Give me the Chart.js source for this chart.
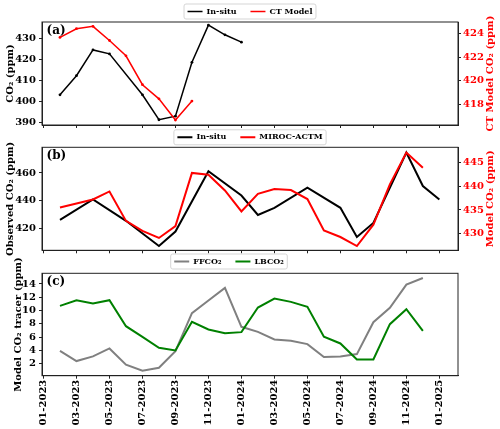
<!DOCTYPE html>
<html>
<head>
<meta charset="utf-8">
<script src="https://cdn.jsdelivr.net/npm/chart.js@4.4.1/dist/chart.umd.min.js"></script>
<style>
  body { margin: 0; background: #fff; }
  #wrap { position: relative; width: 500px; height: 429px; }
  #wrap canvas { position: absolute; left: 0; top: 0; }
</style>
</head>
<body>
<div id="wrap">
  <canvas id="chartA" width="500" height="429"></canvas>
  <canvas id="chartB" width="500" height="429"></canvas>
  <canvas id="chartC" width="500" height="429"></canvas>
</div>
<script>
// month index, 0 = Jan 2023 -> points Feb 2023 .. Jan 2025
var months = [1, 2, 3, 4, 5, 6, 7, 8, 9, 10, 11, 12, 13, 14, 15, 16, 17, 18, 19, 20, 21, 22, 23, 24];
var xTicks = [0, 2, 4, 6, 8, 10, 12, 14, 16, 18, 20, 22, 24];
var xTickLabels = ['01-2023', '03-2023', '05-2023', '07-2023', '09-2023', '11-2023', '01-2024',
                   '03-2024', '05-2024', '07-2024', '09-2024', '11-2024', '01-2025'];

// (a)
var aInsitu = [403.3, 412.4, 424.7, 422.8, null, 403.3, 391.4, 393.1, 418.8, 436.5, 431.9, 428.4,
               null, null, null, null, null, null, null, null, null, null, null, null];
var aCTModel = [423.66, 424.4, 424.6, 423.4, 422.1, 419.65, 418.45, 416.65, 418.26, null, null, null,
                null, null, null, null, null, null, null, null, null, null, null, null];
var aLeftTicks = [390, 400, 410, 420, 430];
var aRightTicks = [418, 420, 422, 424];

// (b)
var bInsitu = [425.9, null, 440.8, null, 425.3, null, 407.0, 417.5, null, 461.2, null, 443.6,
               429.5, 434.7, null, 449.3, null, 434.7, 413.6, 423.7, null, 474.7, 450.5, 440.7];
var bMiroc = [435.5, null, 437.2, 438.9, 432.7, 430.6, 429.1, 431.6, 442.8, 442.4, 439.1, 434.7,
              438.4, 439.4, 439.2, 437.3, 430.7, 429.3, 427.4, 431.9, 440.4, 447.1, 443.9, null];
var bLeftTicks = [420, 440, 460];
var bRightTicks = [430, 435, 440, 445];

// (c)
var cFF = [3.94, 2.4, 3.1, 4.3, 1.85, 0.95, 1.4, 3.9, 9.6, 11.5, 13.4, 7.55,
           6.8, 5.65, 5.45, 4.95, 3.0, 3.1, 3.45, 8.25, 10.4, 13.9, 14.9, null];
var cLB = [10.7, 11.55, 11.05, 11.55, 7.65, 6.05, 4.4, 4.0, 8.3, 7.15, 6.6, 6.75,
           10.45, 11.8, 11.3, 10.55, 6.05, 5.05, 2.65, 2.65, 7.95, 10.2, 6.95, null];
var cTicks = [2, 4, 6, 8, 10, 12, 14];

var serif = "'DejaVu Serif', serif";
var axisColor = '#222';

// frame, legend box, panel tag, right-hand axis title
var panelExtras = {
  id: 'panelExtras',
  beforeLayout: function(chart, args, opts) {
    var lg = chart.legend;
    if (lg && !lg._fixedHeight) {
      var fit = lg.fit;
      lg.fit = function() { fit.call(this); this.height = opts.legendHeight; };
      lg._fixedHeight = true;
    }
  },
  beforeDraw: function(chart) {
    var boxes = chart.legend && chart.legend.legendHitBoxes;
    if (!boxes || !boxes.length) return;
    var l = Infinity, t = Infinity, r = -Infinity, b = -Infinity;
    boxes.forEach(function(h) {
      l = Math.min(l, h.left); t = Math.min(t, h.top);
      r = Math.max(r, h.left + h.width); b = Math.max(b, h.top + h.height);
    });
    var ctx = chart.ctx;
    ctx.save();
    ctx.beginPath();
    ctx.roundRect(l - 3.5, t - 3.5, r - l + 7, b - t + 7, 2);
    ctx.fillStyle = 'rgba(255,255,255,0.85)';
    ctx.fill();
    ctx.strokeStyle = '#d5d5d5';
    ctx.lineWidth = 1;
    ctx.stroke();
    ctx.restore();
  },
  afterDraw: function(chart, args, opts) {
    var a = chart.chartArea, ctx = chart.ctx;
    ctx.save();
    ctx.strokeStyle = axisColor;
    ctx.lineWidth = 1;
    ctx.strokeRect(a.left, a.top, a.right - a.left, a.bottom - a.top);
    ctx.fillStyle = '#000';
    ctx.font = 'bold 12px ' + serif;
    ctx.textBaseline = 'top';
    ctx.fillText(opts.tag, a.left + 4.5, a.top + 3);
    if (opts.rightTitle) {
      ctx.translate(490.5, (a.top + a.bottom) / 2);
      ctx.rotate(-Math.PI / 2);
      ctx.font = 'bold 10px ' + serif;
      ctx.fillStyle = 'red';
      ctx.textAlign = 'center';
      ctx.textBaseline = 'middle';
      ctx.fillText(opts.rightTitle, 0, 0);
    }
    ctx.restore();
  }
};

function series(label, vals, color, width, axis, dots, order) {
  return {
    label: label,
    data: months.map(function(m, i) { return {x: m, y: vals[i]}; }),
    borderColor: color,
    backgroundColor: color,
    borderWidth: width,
    pointRadius: dots ? 1.4 : 0,
    pointBorderWidth: 0,
    pointBackgroundColor: color,
    spanGaps: true,
    tension: 0,
    yAxisID: axis,
    order: order
  };
}

function xScale(showLabels, height) {
  var s = {
    type: 'linear',
    min: -0.09,
    max: 25.13,
    afterBuildTicks: function(sc) { sc.ticks = xTicks.map(function(v) { return {value: v}; }); },
    grid: {drawOnChartArea: false, tickLength: 3, color: axisColor},
    border: {color: axisColor},
    ticks: {
      display: showLabels, autoSkip: false, minRotation: 90, maxRotation: 90, padding: 1,
      color: '#000', font: {family: serif, weight: 'bold', size: 10},
      callback: function(v) { return xTickLabels[xTicks.indexOf(v)]; }
    }
  };
  if (height) s.afterFit = function(sc) { sc.height = height; };
  return s;
}

function yScale(pos, min, max, vals, color, title, titlePad) {
  return {
    type: 'linear',
    position: pos,
    min: min,
    max: max,
    afterBuildTicks: function(sc) { sc.ticks = vals.map(function(v) { return {value: v}; }); },
    afterFit: function(sc) { sc.width = 42; },
    grid: {drawOnChartArea: false, tickLength: 3, color: axisColor},
    border: {color: axisColor},
    ticks: {padding: pos === 'left' ? 3 : 2, color: color, font: {family: serif, weight: 'bold', size: 10}},
    title: {
      display: !!title, text: title || '', color: '#000', padding: {top: titlePad || 0, bottom: 0},
      font: {family: serif, weight: 'bold', size: 10, lineHeight: 1}
    }
  };
}

function legendOpts() {
  return {
    position: 'top',
    labels: {
      usePointStyle: true, pointStyle: 'line', pointStyleWidth: 15, padding: 14,
      color: '#000', font: {family: serif, weight: 'bold', size: 8},
      sort: function(a, b) { return a.datasetIndex - b.datasetIndex; },
      generateLabels: function(chart) {
        var items = Chart.defaults.plugins.legend.labels.generateLabels(chart);
        items.forEach(function(it) {
          var ds = chart.data.datasets[it.datasetIndex];
          it.lineWidth = ds.borderWidth;
          it.strokeStyle = ds.borderColor;
          it.pointStyle = 'line';
        });
        return items;
      }
    }
  };
}

Chart.defaults.animation = false;

new Chart(document.getElementById('chartA'), {
  type: 'line',
  data: {
    datasets: [
      series('In-situ', aInsitu, '#000000', 1.5, 'y', true, 1),
      series('CT Model', aCTModel, '#ff0000', 1.5, 'y2', true, 0)
    ]
  },
  options: {
    responsive: false,
    layout: {padding: {top: -6.5, bottom: 301, left: 0, right: 0}},
    scales: {
      x: xScale(false),
      y: yScale('left', 388.9, 438.0, aLeftTicks, '#000', 'CO\u2082 (ppm)', 5),
      y2: yScale('right', 416.23, 424.97, aRightTicks, '#ff0000')
    },
    plugins: {
      legend: legendOpts(),
      tooltip: {enabled: false},
      panelExtras: {legendHeight: 28.5, tag: '(a)', rightTitle: 'CT Model CO\u2082 (ppm)'}
    }
  },
  plugins: [panelExtras]
});

new Chart(document.getElementById('chartB'), {
  type: 'line',
  data: {
    datasets: [
      series('In-situ', bInsitu, '#000000', 2, 'y', false, 1),
      series('MIROC-ACTM', bMiroc, '#ff0000', 2, 'y2', false, 0)
    ]
  },
  options: {
    responsive: false,
    layout: {padding: {top: 119.3, bottom: 175.7, left: 0, right: 0}},
    scales: {
      x: xScale(false),
      y: yScale('left', 403.9, 478.6, bLeftTicks, '#000', 'Observed CO\u2082 (ppm)', 5),
      y2: yScale('right', 426.5, 448.2, bRightTicks, '#ff0000')
    },
    plugins: {
      legend: legendOpts(),
      tooltip: {enabled: false},
      panelExtras: {legendHeight: 28, tag: '(b)', rightTitle: 'Model CO\u2082 (ppm)'}
    }
  },
  plugins: [panelExtras]
});

new Chart(document.getElementById('chartC'), {
  type: 'line',
  data: {
    datasets: [
      series('FFCO\u2082', cFF, '#808080', 2, 'y', false, 1),
      series('LBCO\u2082', cLB, '#008000', 2, 'y', false, 0)
    ]
  },
  options: {
    responsive: false,
    layout: {padding: {top: 243.5, bottom: 0, left: 0, right: 42}},
    scales: {
      x: xScale(true, 53.3),
      y: yScale('left', 0.2, 15.6, cTicks, '#000', 'Model CO\u2082 tracer (ppm)', 13.5)
    },
    plugins: {
      legend: legendOpts(),
      tooltip: {enabled: false},
      panelExtras: {legendHeight: 29.8, tag: '(c)'}
    }
  },
  plugins: [panelExtras]
});
</script>
</body>
</html>
